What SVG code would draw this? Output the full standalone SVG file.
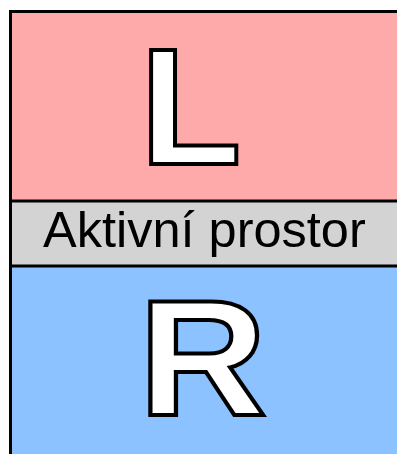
<svg xmlns="http://www.w3.org/2000/svg" width="397" height="454" viewBox="0 0 397 454">
<style>
.big{font-family:"Liberation Sans",Arial,sans-serif;font-size:166px;font-weight:bold;fill:#fff;stroke:#000;stroke-width:4;stroke-linejoin:miter}
.lbl{font-family:"Liberation Sans",Arial,sans-serif;font-size:50.5px;fill:#000}
.ln{stroke:#000;stroke-width:3;fill:none}
</style>
<g id="left">
<rect x="10.5" y="11.5" width="400" height="190" fill="#ffaaaa"/>
<text class="big" x="140" y="164">L</text>
</g>
<g id="active">
<rect x="10.5" y="201" width="400" height="65" fill="#d3d3d3"/>
<text class="lbl" x="43" y="247">Aktivní prostor</text>
</g>
<g id="right">
<rect x="10.5" y="266" width="400" height="200" fill="#8cc2ff"/>
<text class="big" x="139" y="415" transform="translate(147 0) scale(1.07 1) translate(-147 0)">R</text>
</g>
<g id="connectors">
<rect class="ln" x="10.5" y="11.5" width="400" height="460"/>
<line class="ln" x1="10" y1="201" x2="397" y2="201"/>
<line class="ln" x1="10" y1="266" x2="397" y2="266"/>
</g>
</svg>
